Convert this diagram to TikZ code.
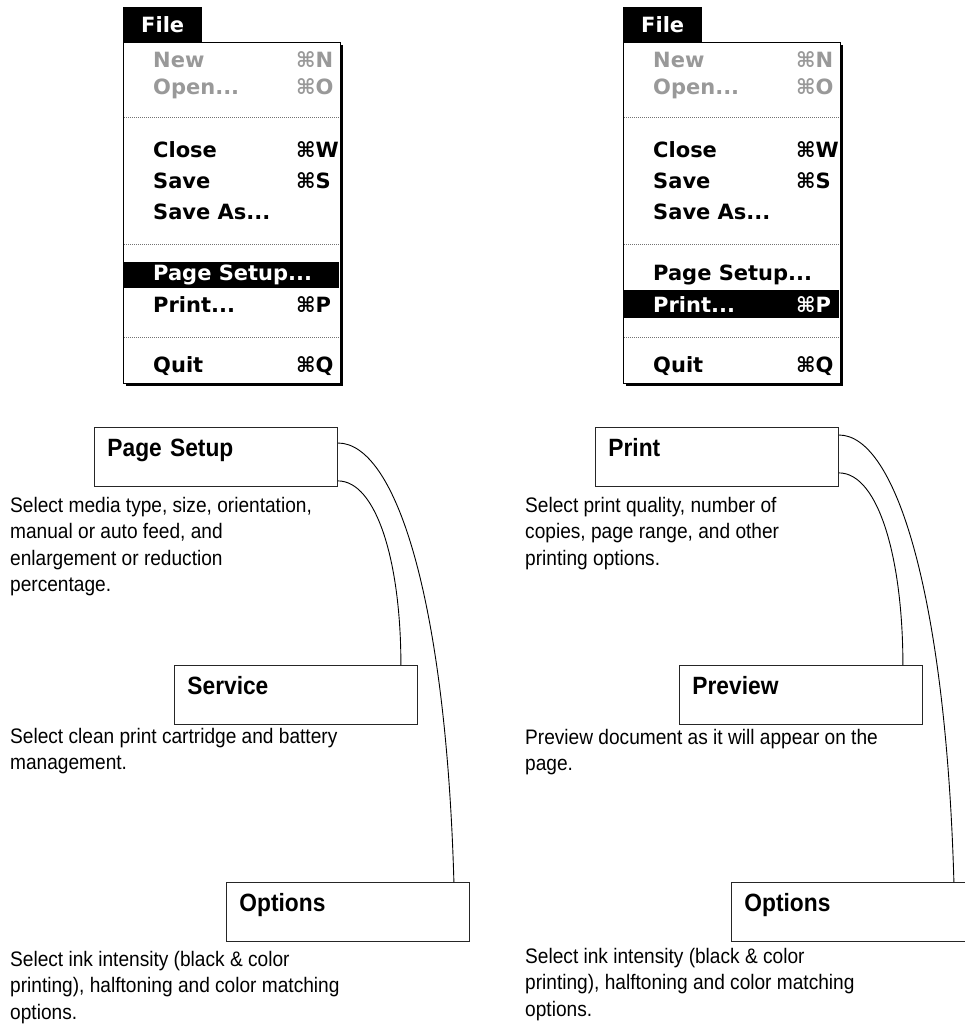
\documentclass[tikz,border=0pt]{standalone}
\usepackage{fontspec}
\setmainfont{Liberation Sans}
\newfontfamily\descfont{Liberation Sans}[FakeStretch=0.91]
\newfontfamily\menufont{DejaVu Sans}
\usetikzlibrary{positioning,shadows}

\begin{document}
\begin{tikzpicture}[
    x=1pt, y=-1pt,
    menutab/.style={fill=black, text=white, anchor=north west, minimum width=79pt,
                    minimum height=35pt, inner sep=0pt,
                    font=\menufont\bfseries\fontsize{21}{21}\selectfont},
    menubox/.style={draw, line width=1pt, fill=white, anchor=north west,
                    minimum width=217pt, minimum height=341pt,
                    drop shadow={shadow xshift=2.5pt, shadow yshift=-2.5pt, fill=black, opacity=1}},
    item/.style={anchor=base west, inner sep=0pt,
                 font=\menufont\bfseries\fontsize{21}{21}\selectfont},
    dimmed/.style={item, text=black!40},
    hilite/.style={item, text=white},
    sep/.style={black!55, line width=1pt, dash pattern=on 1pt off 1pt},
    panel/.style={draw=black!85, line width=0.9pt, anchor=north west,
                  minimum width=243pt, minimum height=59pt, text width=217pt,
                  inner xsep=13pt, inner ysep=0pt, align=left,
                  text height=8pt, text depth=8pt,
                  font=\descfont\bfseries\fontsize{25}{25}\selectfont},
    desc/.style={anchor=north west, inner sep=0pt, align=left,
                 font=\descfont\fontsize{21}{26.5}\selectfont},
    link/.style={line width=0.9pt}
]
\useasboundingbox (0,0) rectangle (964,1025);

% File menu with Page Setup chosen
\begin{scope}[shift={(123,0)}]
\node[menubox] (lmenu) at (0,42) {};
\node[menutab] (lfile) at (0,7) {File};
\fill (1,262) rectangle (216,288);
\node[dimmed] (lnew)   at (30,67)   {New};
\node[dimmed] (lnewk)  at (173,67)  {⌘N};
\node[dimmed] (lopen)  at (30,95)   {Open...};
\node[dimmed] (lopenk) at (173,95)  {⌘O};
\draw[sep] (1,117) -- (216,117);
\node[item]   (lclose) at (30,157)  {Close};
\node[item]   (lclosek) at (173,157) {⌘W};
\node[item]   (lsave)  at (30,188)  {Save};
\node[item]   (lsavek) at (173,188) {⌘S};
\node[item]   (lsaveas) at (30,219) {Save As...};
\draw[sep] (1,244) -- (216,244);
\node[hilite] (lsetup) at (30,280)  {Page Setup...};
\node[item]   (lprint) at (30,312)  {Print...};
\node[item]   (lprintk) at (173,312) {⌘P};
\draw[sep] (1,337) -- (216,337);
\node[item]   (lquit)  at (30,372)  {Quit};
\node[item]   (lquitk) at (173,372) {⌘Q};
\end{scope}

% File menu with Print chosen
\begin{scope}[shift={(623,0)}]
\node[menubox] (rmenu) at (0,42) {};
\node[menutab] (rfile) at (0,7) {File};
\fill (1,290) rectangle (216,318);
\node[dimmed] (rnew)   at (30,67)   {New};
\node[dimmed] (rnewk)  at (173,67)  {⌘N};
\node[dimmed] (ropen)  at (30,95)   {Open...};
\node[dimmed] (ropenk) at (173,95)  {⌘O};
\draw[sep] (1,117) -- (216,117);
\node[item]   (rclose) at (30,157)  {Close};
\node[item]   (rclosek) at (173,157) {⌘W};
\node[item]   (rsave)  at (30,188)  {Save};
\node[item]   (rsavek) at (173,188) {⌘S};
\node[item]   (rsaveas) at (30,219) {Save As...};
\draw[sep] (1,244) -- (216,244);
\node[item]   (rsetup) at (30,280)  {Page Setup...};
\node[hilite] (rprint) at (30,312)  {Print...};
\node[hilite] (rprintk) at (173,312) {⌘P};
\draw[sep] (1,337) -- (216,337);
\node[item]   (rquit)  at (30,372)  {Quit};
\node[item]   (rquitk) at (173,372) {⌘Q};
\end{scope}

% Page Setup dialog and its panels
\node[panel] (setup)    at (94,427)  {Page Setup};
\node[panel] (service)  at (174,665) {Service};
\node[panel] (loptions) at (226,882) {Options};

\node[desc] (setupdesc)    at (10,497) {Select media type, size, orientation,\\manual or auto feed, and\\enlargement or reduction\\percentage.};
\node[desc] (servicedesc)  at (10,728) {Select clean print cartridge and battery\\management.};
\node[desc] (loptionsdesc) at (10,951) {Select ink intensity (black \& color\\printing), halftoning and color matching\\options.};

\draw[link] ([yshift=-16pt]setup.north east) .. controls +(58,0) and +(-8,-282) .. ([xshift=-16pt]loptions.north east);
\draw[link] ([yshift=6pt]setup.south east) .. controls +(38,0) and +(0,-105) .. ([xshift=-17pt]service.north east);

% Print dialog and its panels
\node[panel] (print)    at (595,427) {Print};
\node[panel] (preview)  at (679,665) {Preview};
\node[panel] (roptions) at (731,882) {Options};

\node[desc] (printdesc)    at (525,497) {Select print quality, number of\\copies, page range, and other\\printing options.};
\node[desc] (previewdesc)  at (525,729) {Preview document as it will appear on the\\page.};
\node[desc] (roptionsdesc) at (525,948) {Select ink intensity (black \& color\\printing), halftoning and color matching\\options.};

\draw[link] ([yshift=-8pt]print.north east) .. controls +(58,0) and +(-8,-282) .. ([xshift=-21pt]roptions.north east);
\draw[link] ([yshift=14pt]print.south east) .. controls +(40,0) and +(0,-105) .. ([xshift=-20pt]preview.north east);
\end{tikzpicture}
\end{document}
